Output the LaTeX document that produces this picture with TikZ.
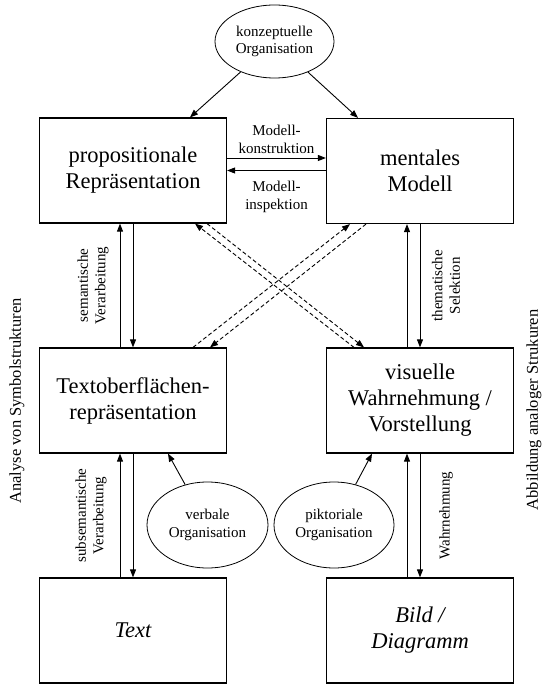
\documentclass[tikz,border=0pt]{standalone}
\usepackage{fontspec}
\setmainfont{Liberation Serif}
\usetikzlibrary{shapes.geometric,arrows.meta,calc}

\begin{document}
\begin{tikzpicture}[x=1pt,y=-1pt,
  every node/.style={font=\fontsize{15}{17.5}\selectfont, align=center},
  box/.style={draw, line width=1.2pt, minimum width=187pt, minimum height=105pt, inner sep=0pt, font=\fontsize{22.5}{26}\selectfont},
  org/.style={draw, ellipse, line width=0.8pt, inner sep=0pt, minimum height=86pt},
  arr/.style={-{Triangle[length=8pt,width=6pt]}, line width=0.9pt},
  darr/.style={arr, dash pattern=on 4pt off 2.5pt},
  side/.style={rotate=90, font=\fontsize{16.5}{19}\selectfont}]
\useasboundingbox (0,0) rectangle (543,684);
\node[box] (pr) at (133,170.5) {propositionale\\Repräsentation};
\node[box] (mm) at (420,171) {mentales\\Modell};
\node[box] (to) at (133,400.5) {Textoberflächen-\\repräsentation};
\node[box] (vw) at (420,400.5) {visuelle\\Wahrnehmung /\\Vorstellung};
\node[box] (tx) at (133,630.5) {\itshape Text};
\node[box] (bd) at (420,630.5) {\itshape Bild /\\\itshape Diagramm};
\node[org, minimum width=119pt, minimum height=73pt] (ko) at (274.5,41.5) {konzeptuelle\\Organisation};
\node[org, minimum width=121pt] (vo) at (207.5,525) {verbale\\Organisation};
\node[org, minimum width=120pt] (po) at (334,525) {piktoriale\\Organisation};
\draw[arr] (ko) -- ([xshift=57pt]pr.north);
\draw[arr] (ko) -- ([xshift=-62pt]mm.north);
\draw[arr] ([yshift=12.5pt]pr.east) -- ([yshift=12.5pt]pr.east -| mm.west)
  node[midway, above=1pt] (mk) {Modell-\\konstruktion};
\draw[arr] (mm.west |- pr.east) -- (pr.east)
  node[midway, below=7pt] (mi) {Modell-\\inspektion};
\draw[arr] ([xshift=-13pt]to.north) -- ([xshift=-13pt]pr.south);
\draw[arr] (pr.south) -- (to.north);
\draw[arr] ([xshift=-13pt]vw.north) -- ([xshift=-13pt]mm.south);
\draw[arr] (mm.south) -- (vw.north);
\draw[arr] ([xshift=-13pt]tx.north) -- ([xshift=-13pt]to.south);
\draw[arr] (to.south) -- (tx.north);
\draw[arr] ([xshift=-13pt]bd.north) -- ([xshift=-13pt]vw.south);
\draw[arr] (vw.south) -- (bd.north);
\draw[darr] ([xshift=-66pt]vw.north) -- ([xshift=62pt]pr.south);
\draw[darr] ([xshift=74pt]pr.south) -- ([xshift=-56pt]vw.north);
\draw[darr] ([xshift=60pt]to.north) -- ([xshift=-70pt]mm.south);
\draw[darr] ([xshift=-54pt]mm.south) -- ([xshift=77pt]to.north);
\draw[arr] (vo) -- ([xshift=35pt]to.south);
\draw[arr] (po) -- ([xshift=-48pt]vw.south);
\node[rotate=90] (sv) at ($(pr.south)!.5!(to.north)+(-40,0)$) {semantische\\Verarbeitung};
\node[rotate=90] (ts) at ($(mm.south)!.5!(vw.north)+(26,0)$) {thematische\\Selektion};
\node[rotate=90] (ssv) at ($(to.south)!.5!(tx.north)+(-42,0)$) {subsemantische\\Verarbeitung};
\node[rotate=90] (wn) at ($(vw.south)!.5!(bd.north)+(26,0)$) {Wahrnehmung};
\node[side] (asy) at (17,401) {Analyse von Symbolstrukturen};
\node[side] (aas) at (534,410) {Abbildung analoger Strukuren};
\end{tikzpicture}
\end{document}
